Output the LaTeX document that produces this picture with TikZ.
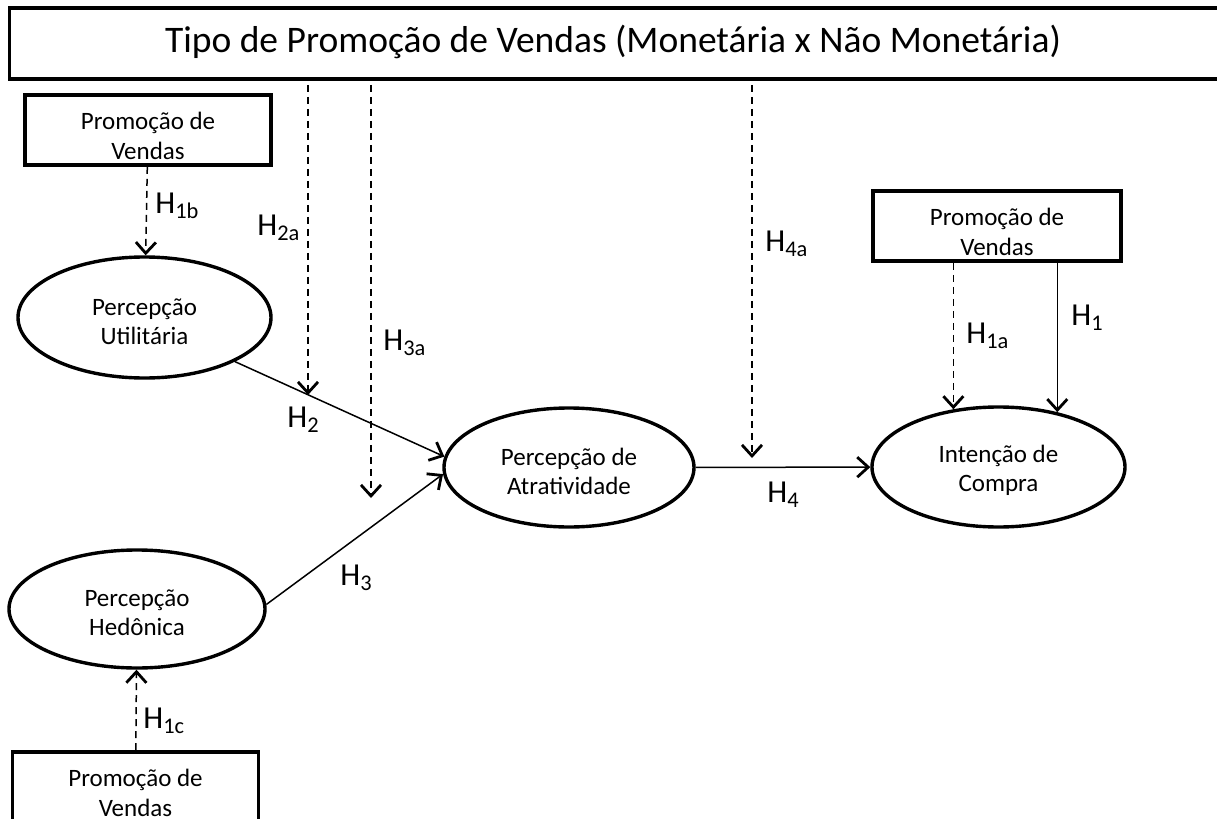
\documentclass[tikz,border=0pt]{standalone}
\usepackage{fontspec}
\setmainfont{Carlito}
\usetikzlibrary{arrows.meta,shapes.geometric}

\begin{document}
\begin{tikzpicture}[x=0.5pt, y=-0.5pt,
    caixa/.style={draw, line width=1.8pt, minimum width=123pt, minimum height=35pt,
      align=center, inner sep=0pt, font=\fontsize{12.5}{15}\selectfont},
    construto/.style={draw, ellipse, line width=1.7pt, align=center, inner sep=0pt,
      font=\fontsize{12.5}{14.5}\selectfont},
    seta/.style={line width=0.75pt, -{Straight Barb[length=5.5pt, width=10pt, line width=1.4pt]}},
    moderacao/.style={seta, dash pattern=on 3.5pt off 2.5pt},
    rotulo/.style={anchor=base west, inner sep=0pt, font=\fontsize{16}{19}\selectfont}]
  \useasboundingbox (0,0) rectangle (1217,819);
  \clip (0,0) rectangle (1217,819);

  % moderador geral
  \node[draw, line width=1.8pt, minimum width=615.4pt, minimum height=35.5pt] (tipo) at (625,43.5) {};
  \node[anchor=base, font=\fontsize{18.75}{22}\selectfont] (tipotexto) at (613,53)
    {Tipo de Promoção de Vendas (Monetária x Não Monetária)};

  % caixas
  \node[caixa] (promoA) at (148,130) {\rule{0pt}{15pt}Promoção de\\Vendas};
  \node[caixa, minimum width=124pt] (promoB) at (997,226) {\rule{0pt}{15pt}Promoção de\\Vendas};
  \node[caixa] (promoC) at (135.5,787) {\rule{0pt}{15pt}Promoção de\\Vendas};

  % construtos
  \node[construto, minimum width=126.5pt, minimum height=60.5pt] (utilitaria) at (144.5,317.5) {\rule{0pt}{12.5pt}Percepção\\Utilitária};
  \node[construto, minimum width=128pt, minimum height=59pt] (hedonica) at (137,609) {\rule{0pt}{12.5pt}Percepção\\Hedônica};
  \node[construto, minimum width=125pt, minimum height=59.5pt] (atratividade) at (569,467.5) {\rule{0pt}{12.5pt}Percepção de\\Atratividade};
  \node[construto, minimum width=126.5pt, minimum height=60pt] (intencao) at (998.5,467) {\rule{0pt}{12.5pt}Intenção de\\Compra};

  % efeitos diretos
  \draw[seta] (utilitaria.-26) -- (atratividade.175);
  \draw[seta] (hedonica.2) -- (atratividade.183);
  \draw[seta] (atratividade) -- (intencao);
  \draw[seta] (promoB.south -| intencao.43) -- (intencao.43);

  % moderacoes
  \coordinate (h2a) at (308,395);
  \coordinate (h3a) at (371,498);
  \coordinate (h4a) at (752,458);
  \draw[moderacao, shorten <=2pt] (tipo.south -| h2a) -- (h2a);
  \draw[moderacao, shorten <=2pt] (tipo.south -| h3a) -- (h3a);
  \draw[moderacao, shorten <=2pt] (tipo.south -| h4a) -- (h4a);
  \draw[moderacao] (promoA) -- (utilitaria);
  \draw[moderacao] (promoC) -- (hedonica);
  \draw[moderacao] (promoB.south -| intencao.128) -- (intencao.128);

  % hipoteses
  \node[rotulo] (l1b) at (155,213) {H\textsubscript{1b}};
  \node[rotulo] (l2a) at (257,235) {H\textsubscript{2a}};
  \node[rotulo] (l3a) at (383,350) {H\textsubscript{3a}};
  \node[rotulo] (l2) at (287,427) {H\textsubscript{2}};
  \node[rotulo] (l3) at (340,585) {H\textsubscript{3}};
  \node[rotulo] (l4) at (767,502) {H\textsubscript{4}};
  \node[rotulo] (l4a) at (765,251) {H\textsubscript{4a}};
  \node[rotulo] (l1a) at (966,343) {H\textsubscript{1a}};
  \node[rotulo] (l1) at (1071,325) {H\textsubscript{1}};
  \node[rotulo] (l1c) at (143,728) {H\textsubscript{1c}};
\end{tikzpicture}
\end{document}
